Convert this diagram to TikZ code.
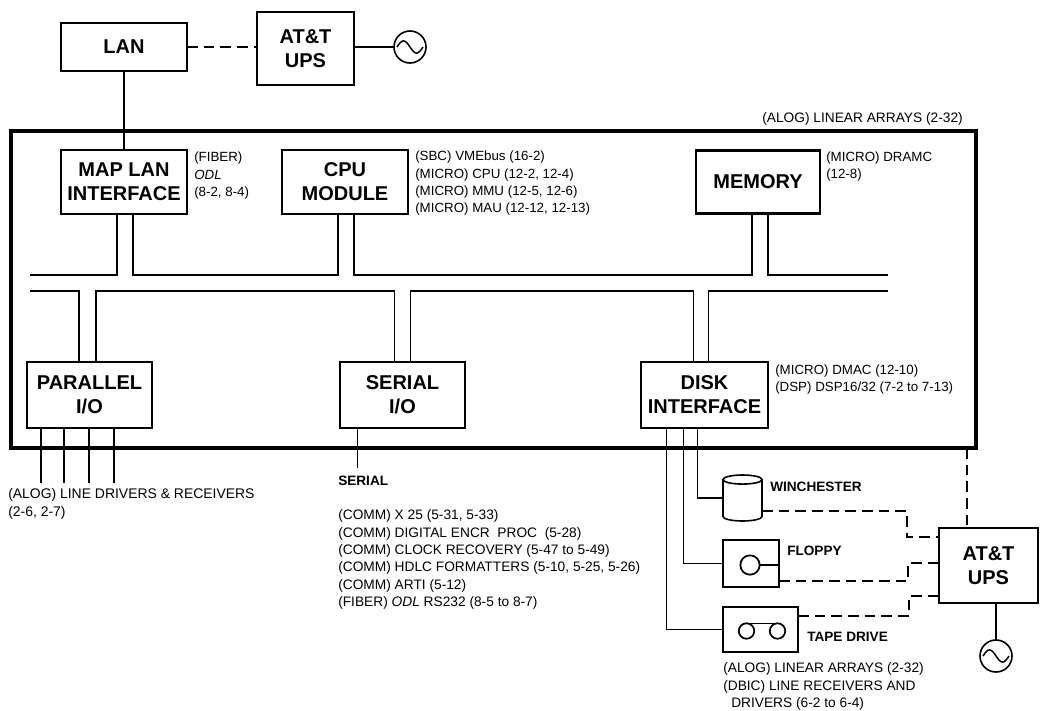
\documentclass[tikz,border=0pt]{standalone}
\usepackage{fontspec}
\setmainfont{Liberation Sans}
\usepackage{tikz}
\usetikzlibrary{positioning, calc}
\tikzstyle{link} = [line width=1.15pt]
\tikzstyle{power} = [line width=1.15pt, dash pattern=on 8pt off 4.5pt]
\tikzstyle{box} = [rectangle, draw=black, line width=1.9pt, inner sep=0pt, outer sep=0pt, align=center, font=\fontsize{15}{18}\selectfont\bfseries, minimum width=94.5pt, minimum height=48pt]
\tikzstyle{device} = [rectangle, draw=black, line width=1.3pt, inner sep=0pt, outer sep=0pt]
\tikzstyle{reel} = [circle, draw=black, line width=1.3pt, inner sep=0pt, outer sep=0pt]
\tikzstyle{note} = [anchor=west, align=left, inner sep=0pt, yshift=-1.3pt, font=\fontsize{10}{13}\selectfont]
\tikzstyle{widenote} = [note, font=\fontsize{10.3}{13}\selectfont]
\tikzstyle{devname} = [anchor=west, inner sep=0pt, yshift=-0.6pt, font=\fontsize{10.2}{13}\selectfont\bfseries]
\tikzstyle{source} = [circle, draw=black, line width=1.2pt, inner sep=0pt, outer sep=0pt, minimum size=24pt,
  path picture={\draw [line width=1.1pt, shift={(path picture bounding box.center)}] (-9.75pt,0pt) sin (-4.9pt,4.6pt) cos (0pt,0pt) sin (4.9pt,-4.6pt) cos (9.75pt,0pt);}]

\begin{document}
\begin{tikzpicture}[x=0.75pt, y=-0.75pt]
    \useasboundingbox (0,0) rectangle (1041,710);

    % Chasis
    \node (chassis) [rectangle, draw=black, line width=3pt, inner sep=0pt, minimum width=723.75pt, minimum height=237.75pt] at (493.5,289.5) {};

    % Red de area local
    \node (lan) [box, minimum height=36pt] at (124,47) {LAN};
    \node (upsa) [box, minimum width=72.75pt, minimum height=54.75pt, right=52.5pt of lan, yshift=-1.2pt] {AT\&T\\UPS};
    \node (aca) [source] at (410,47) {};

    % Modulos superiores
    \node (map) [box, below=59.25pt of lan] {MAP LAN\\INTERFACE};
    \node (cpu) [box, right=71.25pt of map] {CPU\\MODULE};
    \node (mem) [box, minimum width=93pt, minimum height=47.25pt, right=216pt of cpu] {MEMORY};

    % Modulos inferiores
    \node (par) [box, minimum width=93.75pt, minimum height=49.5pt] at (89.5,395) {PARALLEL\\I/O};
    \node (ser) [box, minimum width=93.75pt, minimum height=49.5pt, right=141pt of par] {SERIAL\\I/O};
    \node (disk) [box, minimum width=95.25pt, minimum height=49.5pt, right=132pt of ser] {DISK\\INTERFACE};

    % Perifericos
    \node (winch) [rectangle, inner sep=0pt, outer sep=0pt, minimum width=29.25pt, minimum height=34.5pt] at (742.5,498) {};
    \draw [line width=1.2pt] ([yshift=-3.4pt]winch.north west) -- ([yshift=3.4pt]winch.south west)
        arc [x radius=14.625pt, y radius=3.4pt, start angle=180, end angle=360]
        -- ([yshift=-3.4pt]winch.north east)
        arc [x radius=14.625pt, y radius=3.4pt, start angle=0, end angle=360];
    \node (floppy) [device, minimum width=42pt, minimum height=35.25pt] at (751,563.5) {};
    \node (disc) [reel, minimum size=14.5pt] at (750,565) {};
    \node (tape) [device, minimum width=56.25pt, minimum height=33.75pt] at (760.5,629.5) {};
    \node (tapel) [reel, minimum size=11.6pt] at (746.5,631) {};
    \node (taper) [reel, minimum size=11.6pt] at (777.5,631) {};
    \node (upsb) [box, minimum width=74.25pt, minimum height=56.25pt] at (988.5,565.5) {AT\&T\\UPS};
    \node (acb) [source] at (996,656) {};

    % Textos
    \node (notearrays) [widenote] at (762,117) {(ALOG) LINEAR ARRAYS (2-32)};
    \node (notemap) [note] at (194,174) {(FIBER)\\\textit{ODL}\\(8-2, 8-4)};
    \node (notecpu) [note] at (415,181.5) {(SBC) VMEbus (16-2)\\(MICRO) CPU (12-2, 12-4)\\(MICRO) MMU (12-5, 12-6)\\(MICRO) MAU (12-12, 12-13)};
    \node (notemem) [note] at (826,165) {(MICRO) DRAMC\\(12-8)};
    \node (notedisk) [note] at (775,377.5) {(MICRO) DMAC (12-10)\\(DSP) DSP16/32 (7-2 to 7-13)};
    \node (notepar) [note, font=\fontsize{10.45}{14}\selectfont] at (8,502) {(ALOG) LINE DRIVERS \& RECEIVERS\\(2-6, 2-7)};
    \node (serlabel) [devname] at (338,480) {SERIAL};
    \node (noteser) [widenote] at (338,558) {(COMM) X 25 (5-31, 5-33)\\(COMM) DIGITAL ENCR\ \ PROC\ \ (5-28)\\(COMM) CLOCK RECOVERY (5-47 to 5-49)\\(COMM) HDLC FORMATTERS (5-10, 5-25, 5-26)\\(COMM) ARTI (5-12)\\(FIBER) \textit{ODL} RS232 (8-5 to 8-7)};
    \node (winchlabel) [devname] at (770,486) {WINCHESTER};
    \node (floppylabel) [devname] at (787,550) {FLOPPY};
    \node (tapelabel) [devname] at (807,636) {TAPE DRIVE};
    \node (notetape) [widenote] at (723,685) {(ALOG) LINEAR ARRAYS (2-32)\\(DBIC) LINE RECEIVERS AND\\\hspace*{6pt}DRIVERS (6-2 to 6-4)};

    % Puntos del bus
    \coordinate (busa) at (30,275);
    \coordinate (busb) at (30,291);
    \coordinate (busaend) at (888,275);
    \coordinate (busbend) at (888,291);
    \coordinate (mapl) at ($(map.south)+(-7,0)$);
    \coordinate (mapr) at ($(map.south)+(9,0)$);
    \coordinate (cpul) at ($(cpu.south)+(-7,0)$);
    \coordinate (cpur) at ($(cpu.south)+(9,0)$);
    \coordinate (meml) at ($(mem.south)+(-6,0)$);
    \coordinate (memr) at ($(mem.south)+(10,0)$);
    \coordinate (parl) at ($(par.north)+(-10.5,0)$);
    \coordinate (parr) at ($(par.north)+(6.5,0)$);
    \coordinate (serl) at ($(ser.north)+(-8,0)$);
    \coordinate (serr) at ($(ser.north)+(8,0)$);
    \coordinate (diskl) at ($(disk.north)+(-11,0)$);
    \coordinate (diskr) at ($(disk.north)+(4,0)$);

    % Bus
    \draw [link] (busa) -- (busa -| mapl) -- (mapl);
    \draw [link] (mapr) -- (mapr |- busa) -- (cpul |- busa) -- (cpul);
    \draw [link] (cpur) -- (cpur |- busa) -- (meml |- busa) -- (meml);
    \draw [link] (memr) -- (memr |- busa) -- (busaend);
    \draw [link] (busb) -- (busb -| parl) -- (parl);
    \draw [link] (parr) -- (parr |- busb) -- (serl |- busb) -- (serl);
    \draw [link] (serr) -- (serr |- busb) -- (diskl |- busb) -- (diskl);
    \draw [link] (diskr) -- (diskr |- busb) -- (busbend);

    % Conexiones externas
    \draw [link] (lan) -- (map);
    \draw [power] (lan.east) -- (upsa.west |- lan.east);
    \draw [link] (upsa.east |- aca) -- (aca);
    \draw [link] ($(par.south)+(-48.5,0)$) -- ++(0,55);
    \draw [link] ($(par.south)+(-25.5,0)$) -- ++(0,55);
    \draw [link] ($(par.south)+(-0.5,0)$) -- ++(0,55);
    \draw [link] ($(par.south)+(24.5,0)$) -- ++(0,55);
    \draw [link] ($(ser.south)+(-45,0)$) -- ++(0,40);

    % Perifericos de disco
    \draw [link] ($(disk.south)+(-7,0)$) |- (winch.west);
    \draw [link] ($(disk.south)+(-21,0)$) |- (floppy.west);
    \draw [link] ($(disk.south)+(-38,0)$) |- (tape.west);
    \draw [link] (disc) -- (floppy.east |- disc);
    \draw [link] (tapel.north) -- (taper.north);

    % Alimentacion
    \coordinate (winchout) at (762,511);
    \coordinate (floppyout) at (floppy.south east);
    \coordinate (tapeout) at (798,616);
    \coordinate (feed) at (967,448);
    \coordinate (upswinch) at (939,537);
    \coordinate (upsfloppy) at (939,563);
    \coordinate (upstape) at (939,596);
    \draw [power] (winchout) -- ++(145,0) |- (upswinch);
    \draw [power] ($(floppyout)+(0,-6)$) -- ++(129,0) |- (upsfloppy);
    \draw [power] (tapeout) -- ++(111,0) |- (upstape);
    \draw [power] (feed) -- (feed |- upsb.north);
    \draw [link] (acb) -- (acb |- upsb.south);
\end{tikzpicture}
\end{document}
